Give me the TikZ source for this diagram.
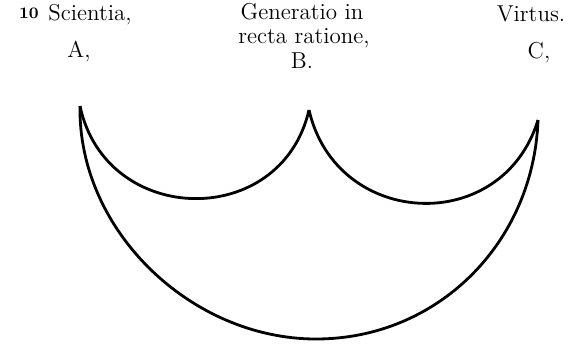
\documentclass[tikz,border=0pt]{standalone}
\begin{document}
\begin{tikzpicture}[x=0.5pt, y=0.5pt, line width=1.4pt,
    label/.style={font=\fontsize{11.5}{14}\selectfont, inner sep=0pt}]
  \useasboundingbox (0,0) rectangle (574,-344);

  % points of the three arcs
  \coordinate (A) at (80,-106);
  \coordinate (B) at (309,-110);
  \coordinate (C) at (538,-120);
  \coordinate (bot) at (316,-339);

  % headings
  \node[font=\fontsize{8}{9}\selectfont, inner sep=0pt] (num) at (29,-13) {\textbf{10}};
  \node[label, anchor=west] (sci) at (47,-15) {Scientia,};
  \node[label] (gen) at (302,-12) {Generatio in};
  \node[label] (rat) at (304,-38) {recta ratione,};
  \node[label] (vir) at (531,-14) {Virtus.};

  % letters
  \node[label] (la) at (79,-52) {A,};
  \node[label] (lb) at (302,-61) {B.};
  \node[label] (lc) at (539,-53) {C,};

  % small arcs
  \draw (A) to[out=-78, in=-103, looseness=1.38] (B);
  \draw (B) to[out=-77, in=-107, looseness=1.36] (C);

  % large arc
  \draw (A) to[out=-91, in=180, looseness=0.96] (bot)
            to[out=0, in=-92, looseness=1.0] (C);
\end{tikzpicture}
\end{document}
